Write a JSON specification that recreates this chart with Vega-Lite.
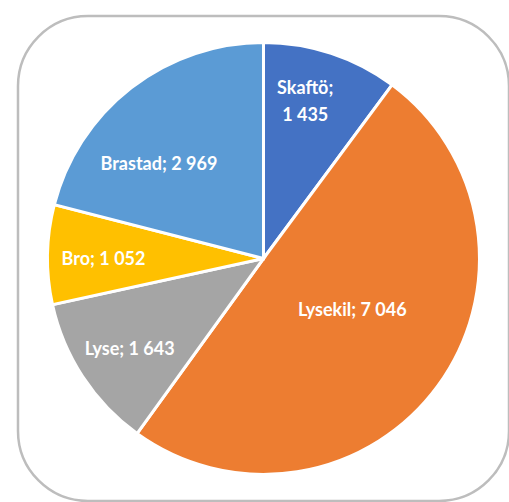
{
  "$schema": "https://vega.github.io/schema/vega-lite/v6.json",
  "width": 509,
  "height": 502,
  "autosize": {"type": "fit", "contains": "padding"},
  "padding": {"left": 18, "right": 0, "top": 16, "bottom": 1},
  "background": "white",
  "view": {"stroke": "#bdbdbd", "strokeWidth": 2.5, "cornerRadius": 70, "fill": "white"},
  "data": {
    "values": [
      {"ort": "Skaftö", "antal": 1435, "label": "Skaftö;\n1 435"},
      {"ort": "Lysekil", "antal": 7046, "label": "Lysekil; 7 046"},
      {"ort": "Lyse", "antal": 1643, "label": "Lyse; 1 643"},
      {"ort": "Bro", "antal": 1052, "label": "Bro; 1 052"},
      {"ort": "Brastad", "antal": 2969, "label": "Brastad; 2 969"}
    ]
  },
  "transform": [
    {"window": [{"op": "row_number", "as": "idx"}]},
    {"stack": "antal", "groupby": [], "sort": [{"field": "idx"}], "as": ["s0", "s1"]},
    {"calculate": "(datum.s0 + datum.s1) / 2", "as": "mid"}
  ],
  "layer": [
    {
      "mark": {"type": "arc", "outerRadius": 216, "stroke": "white", "strokeWidth": 3},
      "encoding": {
        "theta": {"field": "s0", "type": "quantitative", "scale": {"domain": [0, 14145]}},
        "theta2": {"field": "s1"},
        "color": {
          "field": "ort",
          "type": "nominal",
          "scale": {
            "domain": ["Skaftö", "Lysekil", "Lyse", "Bro", "Brastad"],
            "range": ["#4472C4", "#ED7D31", "#A5A5A5", "#FFC000", "#5B9BD5"]
          },
          "legend": null
        }
      }
    },
    {
      "transform": [{"filter": "datum.ort == 'Skaftö'"}],
      "mark": {"type": "text", "radius": 165, "dx": -10, "dy": -13, "font": "Lato", "fontWeight": "bold", "fontSize": 18, "fill": "white", "lineBreak": "\n", "lineHeight": 27, "align": "center", "baseline": "middle"},
      "encoding": {
        "theta": {"field": "mid", "type": "quantitative", "scale": {"domain": [0, 14145]}},
        "text": {"field": "label"}
      }
    },
    {
      "transform": [{"filter": "datum.ort == 'Lysekil'"}],
      "mark": {"type": "text", "radius": 110, "dy": -12, "font": "Lato", "fontWeight": "bold", "fontSize": 18, "fill": "white", "align": "center", "baseline": "middle"},
      "encoding": {
        "theta": {"field": "mid", "type": "quantitative", "scale": {"domain": [0, 14145]}},
        "text": {"field": "label"}
      }
    },
    {
      "transform": [{"filter": "datum.ort == 'Lyse' || datum.ort == 'Bro'"}],
      "mark": {"type": "text", "radius": 160, "dy": 4, "font": "Lato", "fontWeight": "bold", "fontSize": 18, "fill": "white", "align": "center", "baseline": "middle"},
      "encoding": {
        "theta": {"field": "mid", "type": "quantitative", "scale": {"domain": [0, 14145]}},
        "text": {"field": "label"}
      }
    },
    {
      "transform": [{"filter": "datum.ort == 'Brastad'"}],
      "mark": {"type": "text", "radius": 138, "dx": -20, "dy": 16, "font": "Lato", "fontWeight": "bold", "fontSize": 18, "fill": "white", "align": "center", "baseline": "middle"},
      "encoding": {
        "theta": {"field": "mid", "type": "quantitative", "scale": {"domain": [0, 14145]}},
        "text": {"field": "label"}
      }
    }
  ]
}
